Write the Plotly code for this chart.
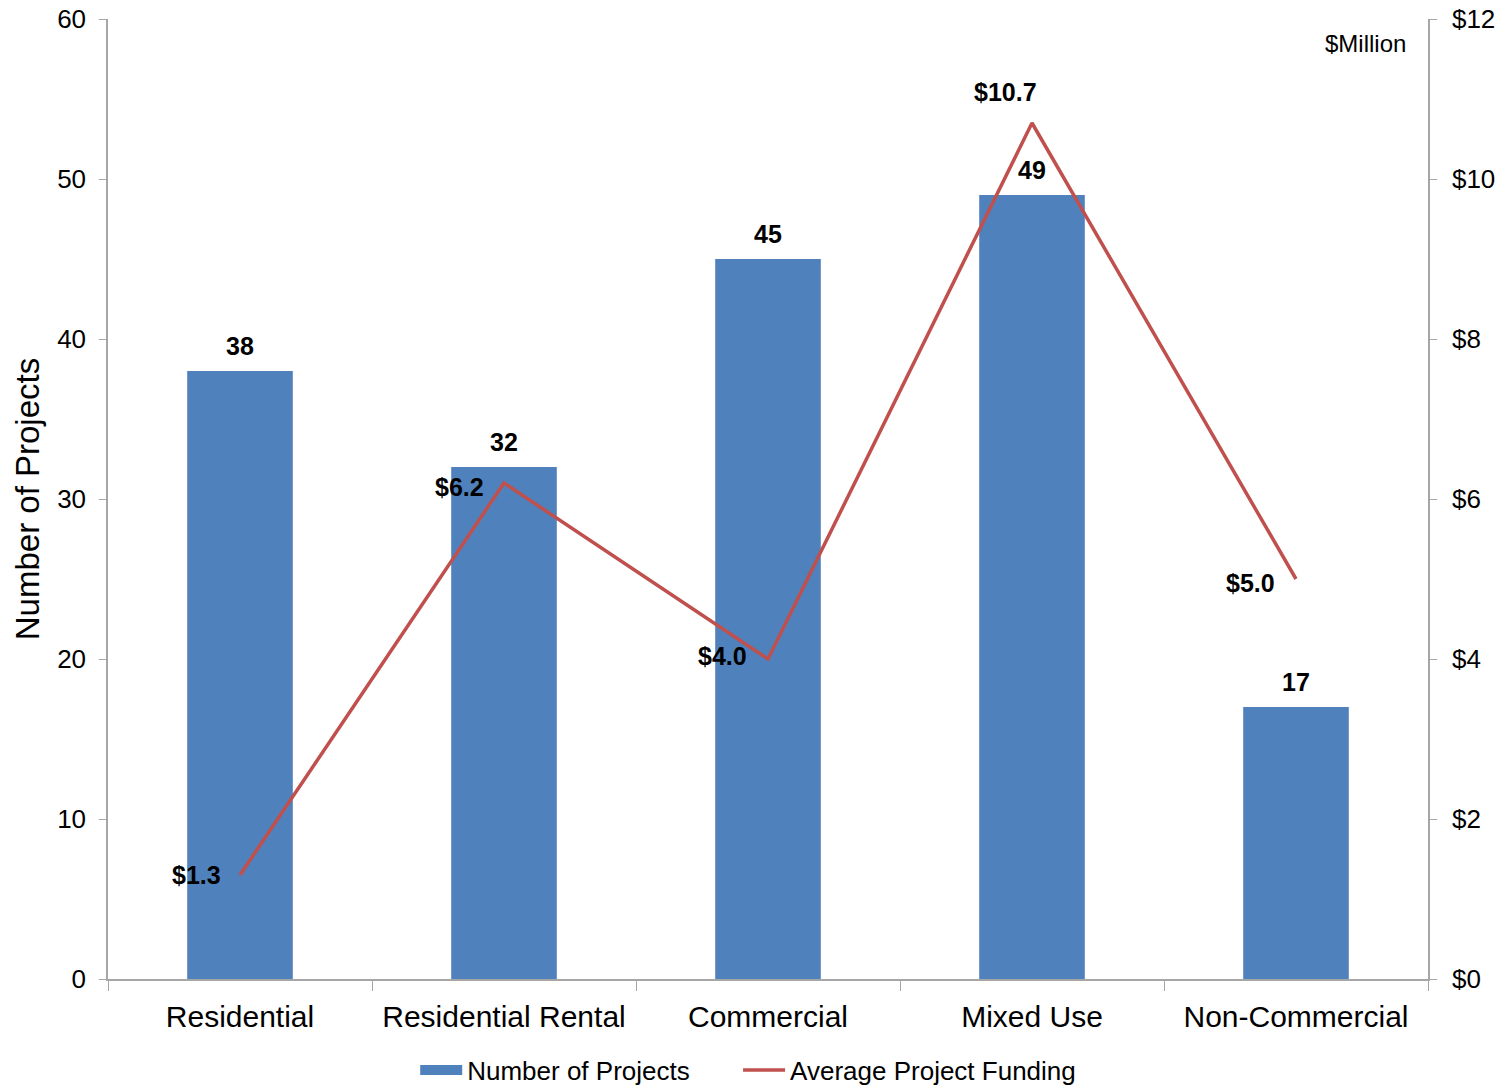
import plotly.graph_objects as go

categories = ["Residential", "Residential Rental", "Commercial", "Mixed Use", "Non-Commercial"]
project_counts = [38, 32, 45, 49, 17]
avg_funding = [1.3, 6.2, 4.0, 10.7, 5.0]
funding_labels = ["$1.3", "$6.2", "$4.0", "$10.7", "$5.0"]

# label offsets (pixels) for the funding line labels
label_shift_x = [-44, -45, -46, -27, -46]
label_shift_y = [0, -4, 3, 31, -4]

FONT = "Liberation Sans, Arial, sans-serif"
AXIS_GRAY = "#A6A6A6"
BAR_BLUE = "#4F81BD"
LINE_RED = "#C0504D"
NBSP = "\u00a0"

fig = go.Figure()

fig.add_trace(go.Bar(
    x=categories, y=project_counts, name="Number of Projects",
    marker=dict(color=BAR_BLUE, line=dict(width=0)),
    showlegend=False,
))

# legend entry for the bars drawn as a wide block
fig.add_trace(go.Scatter(
    x=[None], y=[None], mode="lines", name="Number of Projects" + NBSP * 6,
    line=dict(color=BAR_BLUE, width=15),
))

fig.add_trace(go.Scatter(
    x=categories, y=avg_funding, name="Average Project Funding",
    mode="lines", line=dict(color=LINE_RED, width=3.5),
    yaxis="y2",
))

for c, v in zip(categories, project_counts):
    fig.add_annotation(
        x=c, y=v, xref="x", yref="y", text="<b>%d</b>" % v,
        showarrow=False, yshift=25,
        font=dict(family=FONT, size=25, color="black"),
    )

for c, v, lab, dx, dy in zip(categories, avg_funding, funding_labels, label_shift_x, label_shift_y):
    fig.add_annotation(
        x=c, y=v, xref="x", yref="y2", text="<b>%s</b>" % lab,
        showarrow=False, xshift=dx, yshift=dy,
        font=dict(family=FONT, size=25, color="black"),
    )

fig.add_annotation(
    x=0.985, y=0.974, xref="paper", yref="paper", text="$Million", showarrow=False,
    xanchor="right", yanchor="middle",
    font=dict(family=FONT, size=24, color="black"),
)

fig.update_layout(
    width=1506, height=1086,
    margin=dict(l=108, r=78, t=19, b=107, autoexpand=False),
    plot_bgcolor="white", paper_bgcolor="white",
    font=dict(family=FONT, size=26, color="black"),
    bargap=0.6,
    showlegend=True,
    legend=dict(orientation="h", x=0.485, xanchor="center",
                yref="container", y=1 - 1070 / 1086, yanchor="middle",
                font=dict(family=FONT, size=26), traceorder="normal",
                itemwidth=42, tracegroupgap=0),
    xaxis=dict(
        showline=True, linecolor=AXIS_GRAY, linewidth=1.5,
        ticks="outside", tickson="boundaries", ticklen=10, tickcolor=AXIS_GRAY,
        tickfont=dict(family=FONT, size=30), showgrid=False,
        ticklabelstandoff=10,
    ),
    yaxis=dict(
        range=[0, 60], dtick=10, showgrid=False, zeroline=False,
        showline=True, linecolor=AXIS_GRAY, linewidth=1.5,
        ticks="outside", ticklen=7, tickcolor=AXIS_GRAY,
        tickfont=dict(family=FONT, size=26), ticklabelstandoff=8,
        title=dict(text="Number of Projects", font=dict(family=FONT, size=33), standoff=8),
    ),
    yaxis2=dict(
        range=[0, 12], dtick=2, tickprefix="$", overlaying="y", side="right",
        showgrid=False, zeroline=False,
        showline=True, linecolor=AXIS_GRAY, linewidth=1.5,
        ticks="outside", ticklen=7, tickcolor=AXIS_GRAY,
        tickfont=dict(family=FONT, size=26), ticklabelstandoff=10,
    ),
)

fig.write_html("out.html")
